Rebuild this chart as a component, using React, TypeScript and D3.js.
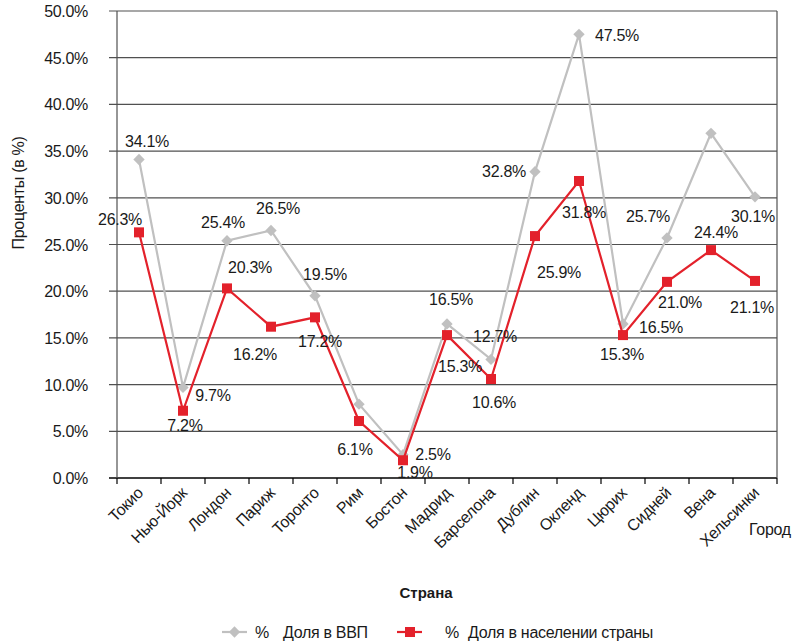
import React, { useRef, useEffect } from 'react';
import * as d3 from 'd3';

const cities = ['Токио', 'Нью-Йорк', 'Лондон', 'Париж', 'Торонто', 'Рим', 'Бостон', 'Мадрид', 'Барселона', 'Дублин', 'Окленд', 'Цюрих', 'Сидней', 'Вена', 'Хельсинки'];
const gdpShare = [34.1, 9.7, 25.4, 26.5, 19.5, 7.9, 2.5, 16.5, 12.7, 32.8, 47.5, 16.5, 25.7, 36.9, 30.1];
const popShare = [26.3, 7.2, 20.3, 16.2, 17.2, 6.1, 1.9, 15.3, 10.6, 25.9, 31.8, 15.3, 21.0, 24.4, 21.1];
const yTicks = [0, 5, 10, 15, 20, 25, 30, 35, 40, 45, 50];

// label offsets from the point (text centre, baseline); null = no label
const gdpLabelPos: ([number, number] | null)[] = [
  [8, -13], [30, 14], [-4, -13], [7, -16], [10, -16], null, [30, 5], [4, -19],
  [4, -17], [-31, 5], [38, 7], [38, 9], [-19, -16], null, [-2, 25],
];
const popLabelPos: ([number, number] | null)[] = [
  [-19, -7], [2, 20], [23, -15], [-16, 33], [5, 30], [-4, 34], [12, 18], [13, 37],
  [3, 29], [24, 42], [5, 37], [-1, 25], [13, 26], [5, -12], [-3, 32],
];

const W = 794;
const H = 643;
const FONT = '"Liberation Sans", Arial, sans-serif';
const GRAY = '#c0c0c0';
const RED = '#e3212b';
const LS = '-0.3px';

export default function App() {
  const ref = useRef<SVGSVGElement>(null);

  useEffect(() => {
    if (!ref.current) return;
    const svg = d3.select(ref.current);
    svg.selectAll('*').remove();

    const x = d3.scaleBand<string>().domain(cities).range([117, 777]);
    const y = d3.scaleLinear().domain([0, 50]).range([478, 11]);
    const cx = (i: number) => (x(cities[i]) as number) + x.bandwidth() / 2;

    // gridlines
    svg.append('g')
      .selectAll('line')
      .data(yTicks)
      .enter()
      .append('line')
      .attr('x1', 109)
      .attr('x2', 777)
      .attr('y1', (d) => y(d))
      .attr('y2', (d) => y(d))
      .attr('stroke', (d) => (d === 0 ? '#000' : '#505050'))
      .attr('stroke-width', (d) => (d === 0 ? 1.5 : 1.2));

    // left axis + right border
    svg.append('line').attr('x1', 117).attr('x2', 117).attr('y1', y(50)).attr('y2', y(0)).attr('stroke', '#505050').attr('stroke-width', 1.2);
    svg.append('line').attr('x1', 777).attr('x2', 777).attr('y1', y(50)).attr('y2', y(0)).attr('stroke', '#505050').attr('stroke-width', 1.2);

    // y tick labels
    svg.append('g')
      .selectAll('text')
      .data(yTicks)
      .enter()
      .append('text')
      .attr('x', 88)
      .attr('y', (d) => y(d) + 6)
      .attr('text-anchor', 'end')
      .attr('font-family', FONT)
      .attr('font-size', 16)
      .attr('letter-spacing', LS)
      .attr('fill', '#1a1a1a')
      .text((d) => d3.format('.1f')(d) + '%');

    // x ticks (band boundaries)
    const bounds = cities.map((c) => x(c) as number).concat([777]);
    svg.append('g')
      .selectAll('line')
      .data(bounds)
      .enter()
      .append('line')
      .attr('x1', (d) => d)
      .attr('x2', (d) => d)
      .attr('y1', y(0))
      .attr('y2', y(0) + 6)
      .attr('stroke', '#000')
      .attr('stroke-width', 1.2);

    // x labels
    svg.append('g')
      .selectAll('text')
      .data(cities)
      .enter()
      .append('text')
      .attr('transform', (d, i) => `translate(${cx(i) + 5}, ${y(0) + 16}) rotate(-45)`)
      .attr('text-anchor', 'end')
      .attr('font-family', FONT)
      .attr('font-size', 16)
      .attr('letter-spacing', LS)
      .attr('fill', '#1a1a1a')
      .text((d) => d);

    // axis titles
    svg.append('text')
      .attr('transform', 'translate(24, 193) rotate(-90)')
      .attr('text-anchor', 'middle')
      .attr('font-family', FONT)
      .attr('font-size', 16)
      .attr('letter-spacing', LS)
      .attr('fill', '#1a1a1a')
      .text('Проценты (в %)');
    svg.append('text')
      .attr('x', 749).attr('y', 535)
      .attr('font-family', FONT)
      .attr('font-size', 16)
      .attr('letter-spacing', LS)
      .attr('fill', '#1a1a1a')
      .text('Город');
    svg.append('text')
      .attr('x', 426).attr('y', 598)
      .attr('text-anchor', 'middle')
      .attr('font-family', FONT)
      .attr('font-size', 15)
      .attr('font-weight', 'bold')
      .attr('fill', '#1a1a1a')
      .text('Страна');

    const line = d3.line<number>().x((d, i) => cx(i)).y((d) => y(d));
    const diamond = d3.symbol().type(d3.symbolSquare).size(64);

    // gdp series
    svg.append('path').attr('d', line(gdpShare)).attr('fill', 'none').attr('stroke', GRAY).attr('stroke-width', 2.2);
    svg.append('g')
      .selectAll('path')
      .data(gdpShare)
      .enter()
      .append('path')
      .attr('d', diamond() as string)
      .attr('transform', (d, i) => `translate(${cx(i)}, ${y(d)}) rotate(45)`)
      .attr('fill', GRAY);

    // population series
    svg.append('path').attr('d', line(popShare)).attr('fill', 'none').attr('stroke', RED).attr('stroke-width', 2.2);
    svg.append('g')
      .selectAll('rect')
      .data(popShare)
      .enter()
      .append('rect')
      .attr('x', (d, i) => cx(i) - 5)
      .attr('y', (d) => y(d) - 5)
      .attr('width', 10)
      .attr('height', 10)
      .attr('fill', RED);

    // data labels
    const addLabels = (vals: number[], pos: ([number, number] | null)[]) => {
      svg.append('g')
        .selectAll('text')
        .data(vals.map((v, i) => ({ v, i, p: pos[i] })).filter((d) => d.p))
        .enter()
        .append('text')
        .attr('x', (d) => cx(d.i) + (d.p as [number, number])[0])
        .attr('y', (d) => y(d.v) + (d.p as [number, number])[1])
        .attr('text-anchor', 'middle')
        .attr('font-family', FONT)
        .attr('font-size', 16)
        .attr('letter-spacing', LS)
        .attr('fill', '#1a1a1a')
        .text((d) => d3.format('.1f')(d.v) + '%');
    };
    addLabels(gdpShare, gdpLabelPos);
    addLabels(popShare, popLabelPos);

    // legend
    const lg = svg.append('g').attr('font-family', FONT).attr('font-size', 16).attr('letter-spacing', LS).attr('fill', '#1a1a1a');
    lg.append('line').attr('x1', 222).attr('x2', 247).attr('y1', 632).attr('y2', 632).attr('stroke', GRAY).attr('stroke-width', 2.2);
    lg.append('path').attr('d', diamond() as string).attr('transform', 'translate(234.5, 632) rotate(45)').attr('fill', GRAY);
    lg.append('text').attr('x', 255).attr('y', 638).text('%');
    lg.append('text').attr('x', 283).attr('y', 638).text('Доля в ВВП');
    lg.append('line').attr('x1', 397).attr('x2', 422).attr('y1', 632).attr('y2', 632).attr('stroke', RED).attr('stroke-width', 2.2);
    lg.append('rect').attr('x', 405).attr('y', 627).attr('width', 10).attr('height', 10).attr('fill', RED);
    lg.append('text').attr('x', 445).attr('y', 638).text('%');
    lg.append('text').attr('x', 468).attr('y', 638).text('Доля в населении страны');
  }, []);

  return (
    <svg
      ref={ref}
      width={W}
      height={H}
      style={{ position: 'absolute', left: 0, top: 0, background: '#fff' }}
    />
  );
}
